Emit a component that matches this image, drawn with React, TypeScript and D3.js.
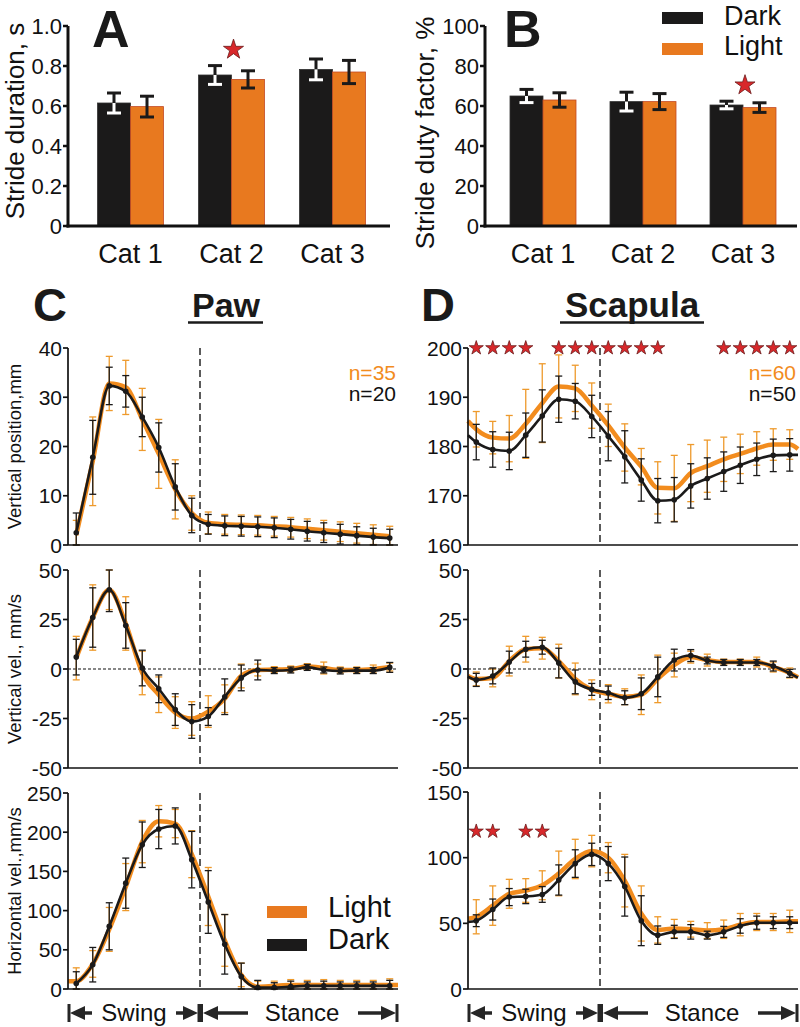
import React from 'react';
import * as d3 from 'd3';

const FONT = '"Liberation Sans", Arial, Helvetica, sans-serif';
const ORANGE_BAR = '#E8791F';
const ORANGE_LINE = '#F28C1E';
const ORANGE_ERR = '#EE9A2C';
const DARK = '#1B1A1A';
const RED = '#D8282B';

// ---------- Bar data (A, B) ----------
const categories = ['Cat 1', 'Cat 2', 'Cat 3'];
const groups = ['Dark', 'Light'];

const durationDark = [0.615, 0.755, 0.783];
const durationDarkErr = [0.05, 0.047, 0.052];
const durationLight = [0.597, 0.733, 0.77];
const durationLightErr = [0.052, 0.043, 0.058];
const durationTicks = [0, 0.2, 0.4, 0.6, 0.8, 1.0];

const dutyDark = [65, 62.2, 60.5];
const dutyDarkErr = [3.3, 4.7, 1.9];
const dutyLight = [63, 62.2, 59.2];
const dutyLightErr = [3.6, 4.0, 2.4];
const dutyTicks = [0, 20, 40, 60, 80, 100];

// ---------- Line data (C, D) ----------
const phase = [2.5, 7.5, 12.5, 17.5, 22.5, 27.5, 32.5, 37.5, 42.5, 47.5, 52.5, 57.5, 62.5, 67.5, 72.5, 77.5, 82.5, 87.5, 92.5, 97.5];
const swingEnd = 40;

// Paw vertical position (mm)
const pawPosDark = [2.5, 17.8, 32.3, 31.2, 26, 19.8, 11.8, 6, 4.2, 3.9, 3.8, 3.7, 3.5, 3.2, 2.8, 2.5, 2.2, 1.9, 1.6, 1.4];
const pawPosDarkErr = [4, 7.5, 3.8, 3.2, 4, 5, 4.7, 3.5, 2, 2, 2, 2, 2, 2, 2, 2, 2, 1.8, 1.8, 1.8];
const pawPosLight = [2, 17, 32.8, 32, 25.5, 18.5, 11.3, 6.5, 4.5, 4.2, 4.1, 4, 3.8, 3.6, 3.3, 3, 2.7, 2.4, 2.1, 1.8];
const pawPosLightErr = [3, 9, 5.5, 5.5, 6.3, 7, 6, 3.5, 2.2, 2, 2, 2, 2, 2, 2, 2, 2, 2, 2, 2];

// Paw vertical velocity (mm/s)
const pawVvDark = [6, 26, 40, 22, 0.5, -10, -20.5, -26.5, -24, -14, -4.5, -0.5, -0.8, -0.5, 0.8, -0.5, -1, -0.8, -0.8, 0.8];
const pawVvDarkErr = [9, 15, 11, 11.5, 9, 7, 8, 8.5, 4.5, 9, 6.5, 5, 1.5, 1.5, 1.5, 1.5, 1.5, 1.5, 1.5, 2.5];
const pawVvLight = [5.5, 26, 40, 23, -2, -13, -22, -25, -21.5, -15, -3.5, -0.5, -0.3, 0, 1.2, 0.5, -0.5, -0.5, 0, 1];
const pawVvLightErr = [11, 16.5, 10, 13.5, 11, 9, 8, 8.5, 8, 7, 6, 3, 1.5, 1.5, 1.5, 3, 1.5, 1.5, 2, 2];

// Paw horizontal velocity (mm/s)
const pawHvDark = [7, 31, 80, 135, 184, 204, 208, 165, 111, 57, 16, 2, 2, 3, 4, 4, 4, 4, 4, 4];
const pawHvDarkErr = [15, 22, 30, 32, 29, 25, 23, 36, 40, 38, 17, 9, 6, 7, 5, 6, 5, 5, 5, 7];
const pawHvLight = [10, 32, 76, 130, 188, 214, 211, 172, 118, 62, 18, 3, 4, 5, 5, 5, 5, 5, 5, 5];
const pawHvLightErr = [17, 17, 28, 30, 27, 20, 18, 30, 37, 33, 15, 7, 6, 7, 6, 7, 6, 6, 6, 8];
const pawHvLightEnds = [10, 5];

// Scapula vertical position (mm)
const scapPosDark = [180.9, 179.4, 179.1, 182.3, 186.2, 189.6, 189.2, 186.1, 182.1, 177.9, 173.2, 169, 169.2, 172, 173.5, 174.9, 176.2, 177.4, 178.2, 178.3];
const scapPosDarkErr = [3.6, 3.6, 3.8, 4.5, 5.3, 4.7, 3.6, 4.3, 5, 5.3, 4.3, 4.5, 4.5, 4.5, 4.2, 4, 3.7, 3.3, 3.3, 3.3];
const scapPosDarkEnds = [182.3, 178.3];
const scapPosLight = [183.5, 181.8, 181.6, 184.6, 188.8, 192.2, 191.8, 188.3, 184.3, 179.8, 175.9, 171.6, 171.5, 174.6, 176, 177.4, 178.5, 179.6, 180.4, 180.4];
const scapPosLightErr = [3.6, 3.3, 4.7, 7, 8, 6.4, 4.7, 4.6, 4.3, 4.8, 3.7, 5.3, 6.7, 5.8, 5.3, 4.5, 4, 3.4, 3.2, 3];
const scapPosLightEnds = [185.2, 179.5];
const scapPosStars = [0, 1, 2, 3, 5, 6, 7, 8, 9, 10, 11, 15, 16, 17, 18, 19];

// Scapula vertical velocity (mm/s)
const scapVvDark = [-5.5, -3.5, 3.5, 10, 11, 3, -6.5, -10.3, -12, -14.5, -12.5, -4, 4.5, 6.8, 4.3, 3.3, 3.3, 3.3, 1.5, -2.2];
const scapVvDarkErr = [3.3, 4, 5.5, 4, 3.5, 7.5, 6, 3, 3.4, 3.5, 8, 10, 5.5, 3, 1.7, 1.5, 1.5, 1.5, 2.5, 2];
const scapVvDarkEnds = [-3.9, -4.4];
const scapVvLight = [-5, -4.5, 4, 10, 10.5, 4, -5, -10.5, -12.5, -14, -13, -5, 2, 6, 4.5, 3.5, 3.5, 3.5, 1, -2];
const scapVvLightErr = [3.5, 4.5, 7.5, 6.5, 5.5, 8.5, 8, 5, 4.6, 4, 10, 12, 6, 3, 3, 1.5, 1.5, 2.5, 2.5, 2.5];
const scapVvLightEnds = [-3.5, -4.2];

// Scapula horizontal velocity (mm/s)
const scapHvDark = [52, 60.5, 70, 70.5, 72, 83, 95.5, 102.5, 95.5, 78, 52, 41, 43.5, 43.5, 41, 43.5, 48, 50.5, 50.5, 50.5];
const scapHvDarkErr = [4.5, 8, 6.5, 5.5, 6, 11.5, 10.5, 8.5, 13, 22.5, 19, 7, 5, 5.5, 3, 4.2, 5.5, 5, 4.5, 4.5];
const scapHvDarkEnds = [51, 50.5];
const scapHvLight = [55, 63.5, 72.5, 75, 79, 88, 99, 105, 100, 82.5, 57.5, 45, 46, 45.5, 44.5, 45.5, 49, 51, 51, 51.5];
const scapHvLightErr = [13, 15, 11, 9, 11, 17, 15, 12, 11.5, 20, 21, 10, 7, 6, 6, 7, 8.5, 6.5, 6.5, 8.5];
const scapHvLightEnds = [53.5, 51.5];
const scapHvStars = [0, 1, 3, 4];

const posTicksPaw = [0, 10, 20, 30, 40];
const posTicksScap = [160, 170, 180, 190, 200];
const velTicks = [-50, -25, 0, 25, 50];
const hvTicksPaw = [0, 50, 100, 150, 200, 250];
const hvTicksScap = [0, 50, 100, 150];

type Series = { v: number[]; e: number[]; ends?: number[] };

const starPath = (size: number) => d3.symbol().type(d3.symbolStar).size(size)() as string;

function Star({ x, y, size }: { x: number; y: number; size: number }) {
  return <path d={starPath(size)} transform={`translate(${x},${y})`} fill={RED} stroke="#6b1a1a" strokeWidth={0.8} />;
}

function BarPanel(props: any) {
  const { axisX, axisEnd, bandRange, yTop, yBottom, max, ticks, fmt, dark, darkErr, light, lightErr, starIdx, label, labelX, labelY } = props;
  const y = d3.scaleLinear().domain([0, max]).range([yBottom, yTop]);
  const xb = d3.scaleBand().domain(categories).range(bandRange);
  const bw = 33;
  const xs = d3.scaleBand().domain(groups).range([0, 2 * bw]);
  const barX = (c: string, g: string) => (xb(c) as number) + xb.bandwidth() / 2 - bw + (xs(g) as number);
  const cap = 7;
  const starTop = Math.max(dark[starIdx] + darkErr[starIdx], light[starIdx] + lightErr[starIdx]);
  return (
    <g>
      {categories.map((c, i) => {
        const dx = barX(c, 'Dark');
        const lx = barX(c, 'Light');
        const dcx = dx + bw / 2;
        const lcx = lx + bw / 2;
        const dTop = y(dark[i]);
        const dUp = y(dark[i] + darkErr[i]);
        const dLo = y(dark[i] - darkErr[i]);
        const lUp = y(light[i] + lightErr[i]);
        const lLo = y(light[i] - lightErr[i]);
        return (
          <g key={c}>
            <rect x={dx} y={dTop} width={bw} height={yBottom - dTop} fill={DARK} stroke="#333" strokeWidth={0.8} />
            <rect x={lx} y={y(light[i])} width={bw} height={yBottom - y(light[i])} fill={ORANGE_BAR} stroke="#C24A25" strokeWidth={0.8} />
            <line x1={dcx} x2={dcx} y1={dUp} y2={dTop} stroke={DARK} strokeWidth={3} />
            <line x1={dcx - cap} x2={dcx + cap} y1={dUp} y2={dUp} stroke={DARK} strokeWidth={3} />
            <line x1={dcx} x2={dcx} y1={dTop} y2={dLo} stroke="#fff" strokeWidth={3} />
            <line x1={dcx - cap} x2={dcx + cap} y1={dLo} y2={dLo} stroke="#fff" strokeWidth={3} />
            <line x1={lcx} x2={lcx} y1={lUp} y2={lLo} stroke={DARK} strokeWidth={3} />
            <line x1={lcx - cap} x2={lcx + cap} y1={lUp} y2={lUp} stroke={DARK} strokeWidth={3} />
            <line x1={lcx - cap} x2={lcx + cap} y1={lLo} y2={lLo} stroke={DARK} strokeWidth={3} />
            <text x={(xb(c) as number) + xb.bandwidth() / 2} y={yBottom + 37} textAnchor="middle" fontSize={27} fontFamily={FONT} fill="#111">{c}</text>
          </g>
        );
      })}
      <Star x={(xb(categories[starIdx]) as number) + xb.bandwidth() / 2 + 2} y={y(starTop) - 16} size={125} />
      <line x1={axisX} x2={axisX} y1={yTop} y2={yBottom + 1.5} stroke="#111" strokeWidth={3} />
      <line x1={axisX - 1.5} x2={axisEnd} y1={yBottom} y2={yBottom} stroke="#111" strokeWidth={3} />
      {ticks.map((t: number) => (
        <g key={t}>
          <line x1={axisX - 5} x2={axisX} y1={y(t)} y2={y(t)} stroke="#111" strokeWidth={2.5} />
          <text x={axisX - 6} y={y(t)} dy="0.36em" textAnchor="end" fontSize={22} fontFamily={FONT} fill="#111">{fmt(t)}</text>
        </g>
      ))}
      <text transform={`translate(${labelX},${labelY}) rotate(-90)`} textAnchor="middle" fontSize={26} fontFamily={FONT} fill="#111">{label}</text>
    </g>
  );
}

function LinePanel(props: any) {
  const { left, right, top, bottom, domain, ticks, light, dark, ylabel, zero, stars, starValue, nText } = props as {
    left: number; right: number; top: number; bottom: number; domain: number[]; ticks: number[];
    light: Series; dark: Series; ylabel?: string; zero?: boolean; stars?: number[]; starValue?: number; nText?: string[];
  };
  const x = d3.scaleLinear().domain([0, 100]).range([left, right]);
  const y = d3.scaleLinear().domain(domain).range([bottom, top]);
  const line = d3.line<number[]>().x(d => x(d[0])).y(d => y(d[1])).curve(d3.curveMonotoneX);
  const pts = (s: Series) => {
    const p: number[][] = phase.map((t, i) => [t, s.v[i]]);
    if (s.ends) {
      p.unshift([0, s.ends[0]]);
      p.push([100, s.ends[1]]);
    }
    return p;
  };
  const clamp = (v: number) => Math.max(domain[0], Math.min(domain[1], v));
  const errBars = (s: Series, color: string, w: number) =>
    phase.map((t, i) => {
      const cx = x(t);
      const y1 = y(clamp(s.v[i] + s.e[i]));
      const y2 = y(clamp(s.v[i] - s.e[i]));
      return (
        <g key={i} stroke={color} strokeWidth={w}>
          <line x1={cx} x2={cx} y1={y1} y2={y2} />
          <line x1={cx - 3.5} x2={cx + 3.5} y1={y1} y2={y1} />
          <line x1={cx - 3.5} x2={cx + 3.5} y1={y2} y2={y2} />
        </g>
      );
    });
  const xs = x(swingEnd);
  return (
    <g>
      {zero && <line x1={left} x2={right} y1={y(0)} y2={y(0)} stroke="#111" strokeWidth={1.2} strokeDasharray="3,2" />}
      <line x1={xs} x2={xs} y1={top} y2={bottom} stroke="#333" strokeWidth={1.6} strokeDasharray="7,4" />
      {errBars(light, ORANGE_ERR, 1.3)}
      <path d={line(pts(light)) as string} fill="none" stroke={ORANGE_LINE} strokeWidth={4.5} />
      {errBars(dark, DARK, 1.3)}
      <path d={line(pts(dark)) as string} fill="none" stroke={DARK} strokeWidth={2.6} />
      {phase.map((t, i) => <circle key={i} cx={x(t)} cy={y(dark.v[i])} r={2.8} fill={DARK} />)}
      <line x1={left} x2={left} y1={top} y2={bottom} stroke="#111" strokeWidth={1.7} />
      <line x1={left} x2={right} y1={bottom} y2={bottom} stroke="#111" strokeWidth={1.7} />
      {ticks.map(t => (
        <g key={t}>
          <line x1={left - 5} x2={left} y1={y(t)} y2={y(t)} stroke="#111" strokeWidth={1.7} />
          <text x={left - 6} y={y(t)} dy="0.36em" textAnchor="end" fontSize={21} fontFamily={FONT} fill="#111">{t}</text>
        </g>
      ))}
      {stars && stars.map(i => <Star key={i} x={x(phase[i])} y={y(starValue as number)} size={62} />)}
      {nText && (
        <g fontSize={21} fontFamily={FONT} textAnchor="end">
          <text x={right - 2} y={top + 32} fill={ORANGE_LINE}>{nText[0]}</text>
          <text x={right - 2} y={top + 53} fill="#111">{nText[1]}</text>
        </g>
      )}
      {ylabel && (
        <text transform={`translate(${left - 47},${(top + bottom) / 2}) rotate(-90)`} textAnchor="middle" fontSize={18.5} fontFamily={FONT} fill="#111">{ylabel}</text>
      )}
    </g>
  );
}

function PhaseArrows({ left, right, y }: { left: number; right: number; y: number }) {
  const x = d3.scaleLinear().domain([0, 100]).range([left, right]);
  const s = x(swingEnd);
  const c1 = (x(0) + s) / 2;
  const c2 = (s + x(100)) / 2 + 3;
  const col = '#262626';
  const head = 15;
  const hw = 7;
  const leftHead = (bx: number) => `${bx + 2},${y} ${bx + 2 + head},${y - hw} ${bx + 2 + head},${y + hw}`;
  const rightHead = (bx: number) => `${bx - 2},${y} ${bx - 2 - head},${y - hw} ${bx - 2 - head},${y + hw}`;
  return (
    <g>
      <g stroke={col} strokeWidth={3}>
        <line x1={x(0) + 1} x2={x(0) + 1} y1={y - 9} y2={y + 9} />
        <line x1={s - 1} x2={s - 1} y1={y - 9} y2={y + 9} />
        <line x1={s + 1.5} x2={s + 1.5} y1={y - 9} y2={y + 9} />
        <line x1={x(100) - 1} x2={x(100) - 1} y1={y - 9} y2={y + 9} />
        <line x1={x(0) + 10} x2={c1 - 42} y1={y} y2={y} strokeWidth={3.5} />
        <line x1={c1 + 42} x2={s - 10} y1={y} y2={y} strokeWidth={3.5} />
        <line x1={s + 10} x2={c2 - 54} y1={y} y2={y} strokeWidth={3.5} />
        <line x1={c2 + 56} x2={x(100) - 10} y1={y} y2={y} strokeWidth={3.5} />
      </g>
      <g fill={col}>
        <polygon points={leftHead(x(0))} />
        <polygon points={rightHead(s)} />
        <polygon points={leftHead(s + 1)} />
        <polygon points={rightHead(x(100))} />
      </g>
      <text x={c1} y={y + 8} textAnchor="middle" fontSize={24} fontFamily={FONT} fill="#111">Swing</text>
      <text x={c2} y={y + 8} textAnchor="middle" fontSize={24} fontFamily={FONT} fill="#111">Stance</text>
    </g>
  );
}

export default function App() {
  const fmt1 = (t: number) => (t === 0 ? '0' : d3.format('.1f')(t));
  const fmt0 = (t: number) => String(t);
  return (
    <svg width={800} height={1027} viewBox="0 0 800 1027" style={{ position: 'absolute', left: 0, top: 0, background: '#fff' }} fontFamily={FONT}>
      <rect x={0} y={0} width={800} height={1027} fill="#fff" />

      <text x={92} y={47} fontSize={52} fontWeight="bold" fill="#1a1a1a">A</text>
      <text x={504} y={47} fontSize={52} fontWeight="bold" fill="#1a1a1a">B</text>
      <text x={33} y={321} fontSize={47} fontWeight="bold" fill="#1a1a1a">C</text>
      <text x={421} y={321} fontSize={47} fontWeight="bold" fill="#1a1a1a">D</text>

      <BarPanel axisX={68} axisEnd={390} bandRange={[80, 383]} yTop={26} yBottom={226} max={1.0} ticks={durationTicks} fmt={fmt1}
        dark={durationDark} darkErr={durationDarkErr} light={durationLight} lightErr={durationLightErr} starIdx={1}
        label="Stride duration, s" labelX={24} labelY={121} />
      <BarPanel axisX={485} axisEnd={797} bandRange={[493, 793]} yTop={26} yBottom={226} max={100} ticks={dutyTicks} fmt={fmt0}
        dark={dutyDark} darkErr={dutyDarkErr} light={dutyLight} lightErr={dutyLightErr} starIdx={2}
        label="Stride duty factor, %" labelX={434} labelY={133} />

      <rect x={662} y={12} width={41} height={12} fill={DARK} />
      <text x={724} y={25} fontSize={27} fill="#111">Dark</text>
      <rect x={662} y={43} width={41} height={12} fill={ORANGE_BAR} />
      <text x={724} y={55} fontSize={27} fill="#111">Light</text>

      <text x={226} y={317} textAnchor="middle" fontSize={34} fontWeight="bold" fill="#1a1a1a">Paw</text>
      <line x1={188} x2={263} y1={322.5} y2={322.5} stroke="#1a1a1a" strokeWidth={2.5} />
      <text x={632} y={317} textAnchor="middle" fontSize={35} fontWeight="bold" fill="#1a1a1a">Scapula</text>
      <line x1={560} x2={704} y1={322.5} y2={322.5} stroke="#1a1a1a" strokeWidth={2.5} />

      <LinePanel left={68} right={398} top={348} bottom={545} domain={[0, 40]} ticks={posTicksPaw}
        light={{ v: pawPosLight, e: pawPosLightErr }} dark={{ v: pawPosDark, e: pawPosDarkErr }}
        ylabel="Vertical position,mm" nText={['n=35', 'n=20']} />
      <LinePanel left={68} right={398} top={570} bottom={768} domain={[-50, 50]} ticks={velTicks} zero
        light={{ v: pawVvLight, e: pawVvLightErr }} dark={{ v: pawVvDark, e: pawVvDarkErr }}
        ylabel="Vertical vel., mm/s" />
      <LinePanel left={68} right={398} top={793} bottom={989} domain={[0, 250]} ticks={hvTicksPaw}
        light={{ v: pawHvLight, e: pawHvLightErr, ends: pawHvLightEnds }} dark={{ v: pawHvDark, e: pawHvDarkErr }}
        ylabel="Horizontal vel.,mm/s" />

      <rect x={267} y={906} width={40} height={12} fill={ORANGE_BAR} />
      <text x={328} y={917} fontSize={29} fill="#111">Light</text>
      <rect x={267} y={939} width={40} height={12} fill={DARK} />
      <text x={328} y={949} fontSize={29} fill="#111">Dark</text>

      <LinePanel left={468} right={798} top={348} bottom={545} domain={[160, 200]} ticks={posTicksScap}
        light={{ v: scapPosLight, e: scapPosLightErr, ends: scapPosLightEnds }} dark={{ v: scapPosDark, e: scapPosDarkErr, ends: scapPosDarkEnds }}
        stars={scapPosStars} starValue={200} nText={['n=60', 'n=50']} />
      <LinePanel left={468} right={798} top={570} bottom={768} domain={[-50, 50]} ticks={velTicks} zero
        light={{ v: scapVvLight, e: scapVvLightErr, ends: scapVvLightEnds }} dark={{ v: scapVvDark, e: scapVvDarkErr, ends: scapVvDarkEnds }} />
      <LinePanel left={468} right={798} top={792} bottom={989} domain={[0, 150]} ticks={hvTicksScap}
        light={{ v: scapHvLight, e: scapHvLightErr, ends: scapHvLightEnds }} dark={{ v: scapHvDark, e: scapHvDarkErr, ends: scapHvDarkEnds }}
        stars={scapHvStars} starValue={120} />

      <PhaseArrows left={68} right={398} y={1013} />
      <PhaseArrows left={468} right={798} y={1013} />
    </svg>
  );
}
